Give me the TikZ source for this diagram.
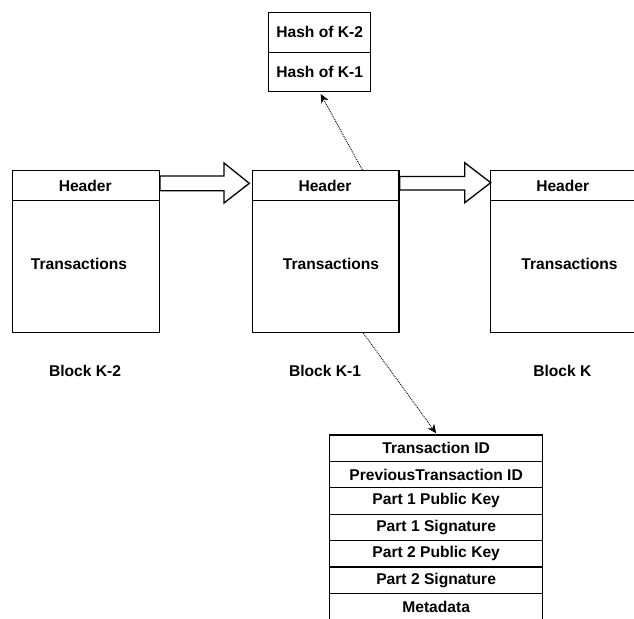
\documentclass[tikz,border=0pt]{standalone}
\usepackage{fontspec}
\setmainfont{Liberation Sans}
\usetikzlibrary{arrows.meta}
\begin{document}
\begin{tikzpicture}[x=1pt,y=-1pt,
  every node/.style={font=\fontsize{15.6}{18}\selectfont\bfseries},
  blockbox/.style={draw=black,line width=1.3pt,anchor=north west,minimum width=146.7pt,minimum height=162pt,inner sep=0pt},
  cellbox/.style={draw=black,line width=1.3pt,anchor=north west,minimum width=213pt,minimum height=26.4pt,inner sep=0pt},
  hashbox/.style={draw=black,line width=1.3pt,anchor=north west,minimum width=102pt,minimum height=40pt,inner sep=0pt},
  divider/.style={line width=1.3pt},
  lbl/.style={inner sep=0pt},
  barrow/.style={draw=black,fill=white,line width=1.3pt,line join=miter},
  dotarrow/.style={densely dotted,line width=0.9pt,-{Stealth[length=9pt,width=8pt]}}
]
\useasboundingbox (0,0) rectangle (634,618);

% blocks
\node[blockbox] (k2) at (12,170) {};
\node[blockbox] (k1) at (251.7,170) {};
\node[blockbox] (k) at (490,170) {};
\draw[divider] ([yshift=-30.7pt]k2.north west) -- ([yshift=-30.7pt]k2.north east);
\draw[divider] ([yshift=-30.7pt]k1.north west) -- ([yshift=-30.7pt]k1.north east);
\draw[divider] ([yshift=-30.7pt]k.north west) -- ([yshift=-30.7pt]k.north east);

\node[lbl] (k2h) at (85.2,185.5) {Header};
\node[lbl] (k1h) at (325,185.5) {Header};
\node[lbl] (kh) at (562.7,185.5) {Header};
\node[lbl] (k2t) at (79,263.5) {Transactions};
\node[lbl] (k1t) at (331,263.5) {Transactions};
\node[lbl] (kt) at (569.5,263.5) {Transactions};

\node[lbl] (k2l) at (85,370.5) {Block K-2};
\node[lbl] (k1l) at (325,370.5) {Block K-1};
\node[lbl] (kl) at (562.4,370.5) {Block K};

% block arrows
\draw[barrow] ([yshift=-6pt]k2.north east) -- ++(64,0) -- ++(0,-13) -- ++(25.3,20.3) -- ++(-25.3,19.7) -- ++(0,-12.3) -- ++(-64,0) -- cycle;
\draw[barrow] ([yshift=-6.5pt]k1.north east) -- ++(65,0) -- ++(0,-13.8) -- ++(26,20) -- ++(-26,20) -- ++(0,-12.7) -- ++(-65,0) -- cycle;

% hash box
\node[hashbox] (h2) at (268,11.7) {Hash of K-2};
\node[hashbox,minimum height=39pt] (h1) at (268,51.7) {Hash of K-1};

% transaction table
\node[cellbox] (t1) at (329,434.3) {Transaction ID};
\node[cellbox] (t2) at (329,460.7) {PreviousTransaction ID};
\node[cellbox] (t3) at (329,487.1) {Part 1 Public Key};
\node[cellbox] (t4) at (329,513.5) {Part 1 Signature};
\node[cellbox] (t5) at (329,539.9) {Part 2 Public Key};
\node[cellbox] (t6) at (329,566.3) {Part 2 Signature};
\node[cellbox] (t7) at (329,592.7) {Metadata};

% dotted connectors
\draw[dotarrow] ([xshift=36.7pt]k1.north) -- ([xshift=1pt,yshift=-2pt]h1.south);
\draw[dotarrow] ([xshift=37.7pt]k1.south) -- ([yshift=1pt]t1.north);
\end{tikzpicture}
\end{document}
